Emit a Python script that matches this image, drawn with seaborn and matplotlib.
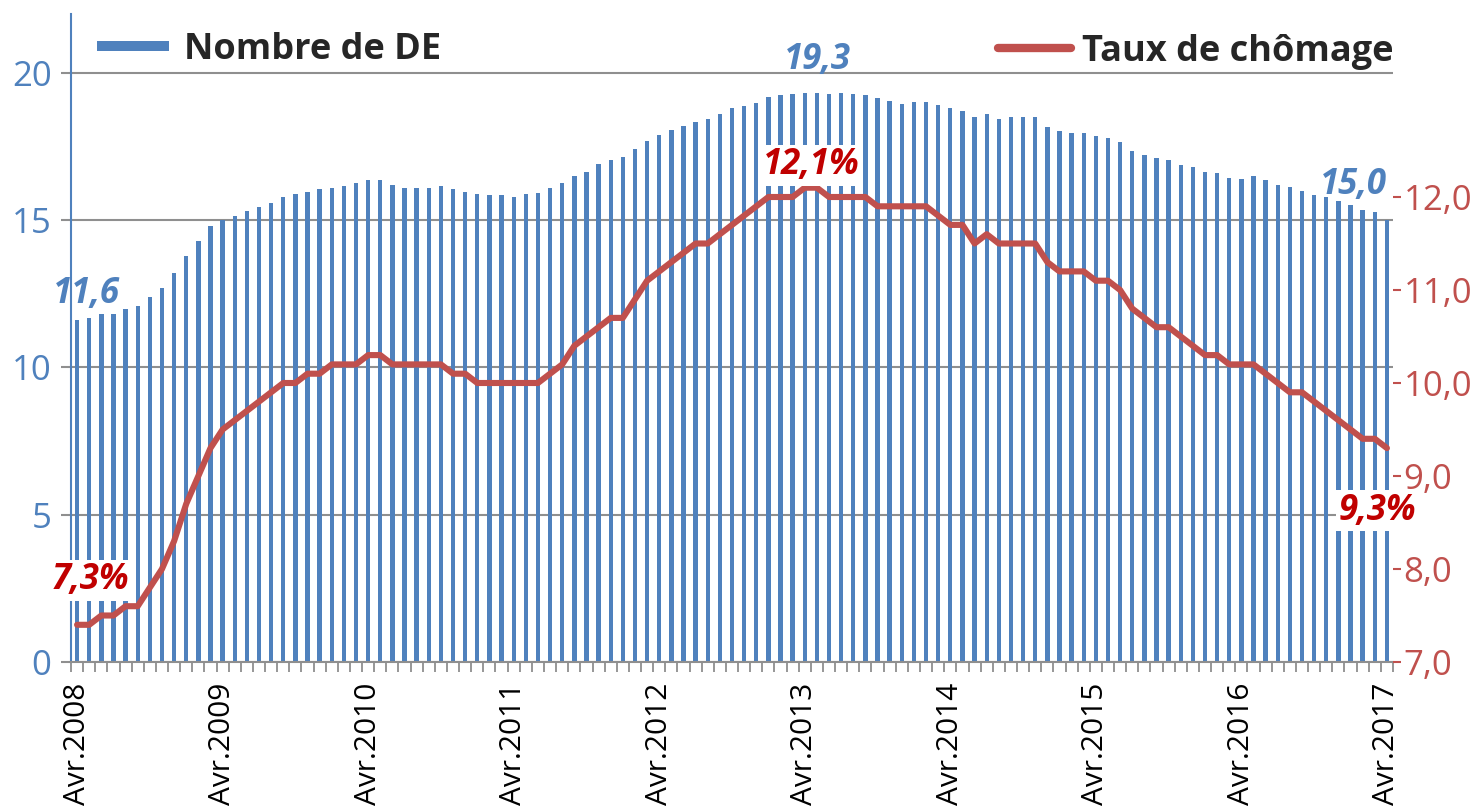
import numpy as np
import pandas as pd
import seaborn as sns
import matplotlib.pyplot as plt
from matplotlib.lines import Line2D
from matplotlib.ticker import FuncFormatter, FixedLocator

# ---------------- data ----------------
months = pd.period_range("2008-04", "2017-04", freq="M")

nombre_de = [
    11.6, 11.67, 11.8, 11.83, 12.0, 12.1, 12.4, 12.7, 13.2, 13.8,
    14.3, 14.8, 15.0, 15.15, 15.3, 15.45, 15.6, 15.8, 15.9, 15.95,
    16.05, 16.1, 16.15, 16.25, 16.35, 16.35, 16.2,
    16.1, 16.1, 16.1, 16.15, 16.05, 15.97, 15.9, 15.85, 15.87, 15.8,
    15.9, 15.92, 16.1, 16.25, 16.5, 16.65, 16.9, 17.05, 17.15, 17.4,
    17.7, 17.9, 18.05, 18.2, 18.35, 18.45, 18.6,
    18.8, 18.87, 18.97, 19.18, 19.25, 19.27, 19.32, 19.33, 19.27, 19.32,
    19.3, 19.24, 19.15, 19.05, 18.96, 19.02, 19.02, 18.9, 18.8, 18.72,
    18.5, 18.62, 18.43, 18.52, 18.52, 18.5, 18.17,
    18.03, 17.97, 17.97, 17.85, 17.78, 17.66, 17.34, 17.2, 17.1, 17.03,
    16.88, 16.8, 16.62, 16.6, 16.43, 16.4, 16.49, 16.37, 16.2, 16.11,
    16.0, 15.86, 15.8, 15.64, 15.52, 15.35, 15.28, 15.0,
]

taux_chomage = [
    7.4, 7.4, 7.5, 7.5, 7.6, 7.6, 7.8, 8.0, 8.3, 8.7,
    9.0, 9.3, 9.5, 9.6, 9.7, 9.8, 9.9, 10.0, 10.0, 10.1,
    10.1, 10.2, 10.2, 10.2, 10.3, 10.3, 10.2,
    10.2, 10.2, 10.2, 10.2, 10.1, 10.1, 10.0, 10.0, 10.0, 10.0,
    10.0, 10.0, 10.1, 10.2, 10.4, 10.5, 10.6, 10.7, 10.7, 10.9,
    11.1, 11.2, 11.3, 11.4, 11.5, 11.5, 11.6,
    11.7, 11.8, 11.9, 12.0, 12.0, 12.0, 12.1, 12.1, 12.0, 12.0,
    12.0, 12.0, 11.9, 11.9, 11.9, 11.9, 11.9, 11.8, 11.7, 11.7,
    11.5, 11.6, 11.5, 11.5, 11.5, 11.5, 11.3,
    11.2, 11.2, 11.2, 11.1, 11.1, 11.0, 10.8, 10.7, 10.6, 10.6,
    10.5, 10.4, 10.3, 10.3, 10.2, 10.2, 10.2, 10.1, 10.0, 9.9,
    9.9, 9.8, 9.7, 9.6, 9.5, 9.4, 9.4, 9.3,
]

series_names = ["Nombre de DE", "Taux de chômage"]
left_ticks = [0, 5, 10, 15, 20]
right_ticks = [7, 8, 9, 10, 11, 12]
de_labels = ["11,6", "19,3", "15,0"]          # start, peak, end
taux_labels = ["7,3%", "12,1%", "9,3%"]       # start, peak, end

BLUE = "#4F81BD"
RED = "#C0504D"
DARKRED = "#C00000"
GRID = "#8f8f8f"

n = len(months)
xlabels = [f"Avr.{p.year}" for p in months if p.month == 4]
xlabel_pos = [i for i, p in enumerate(months) if p.month == 4]

df = pd.DataFrame({"idx": np.arange(n), "de": nombre_de, "taux": taux_chomage})

# ---------------- figure ----------------
sns.set_theme(style="white")
plt.rcParams["font.family"] = ["Open Sans", "DejaVu Sans"]

W, H = 1478, 810
fig = plt.figure(figsize=(W / 100, H / 100), dpi=100)
ax = fig.add_axes([71 / W, 1 - 662 / H, (1393 - 71) / W, (662 - 14) / H])

sns.barplot(data=df, x="idx", y="de", color=BLUE, saturation=1, width=0.36,
            ax=ax, zorder=2, linewidth=0)
ax.set_xlim(-0.5, n - 0.5)
ax.set_ylim(0, 22)
ax.set_xlabel("")
ax.set_ylabel("")

# grid & spines
ax.yaxis.set_major_locator(FixedLocator(left_ticks))
ax.yaxis.grid(True, color=GRID, lw=1.5)
ax.xaxis.grid(False)
ax.set_axisbelow(True)
for s in ["top", "right"]:
    ax.spines[s].set_visible(False)
ax.spines["left"].set_color(BLUE)
ax.spines["left"].set_linewidth(1.5)
ax.spines["bottom"].set_color(GRID)
ax.spines["bottom"].set_linewidth(1.5)

ax.yaxis.set_major_formatter(FuncFormatter(lambda v, p: f"{v:.0f}"))
ax.tick_params(axis="y", which="major", left=True, length=7, width=1.5,
               color=GRID, labelcolor=BLUE, labelsize=25, pad=7)

ax.xaxis.set_major_locator(FixedLocator(xlabel_pos))
ax.set_xticklabels(xlabels, rotation=90, fontsize=21.5, color="black")
ax.xaxis.set_minor_locator(FixedLocator(np.arange(-0.5, n, 1.0)))
ax.tick_params(axis="x", which="major", bottom=True, length=0, pad=15)
ax.tick_params(axis="x", which="minor", bottom=True, length=7, width=1.3, color=GRID)

# line on secondary axis
ax2 = ax.twinx()
sns.lineplot(data=df, x="idx", y="taux", color=RED, lw=4.4, ax=ax2,
             solid_joinstyle="round", solid_capstyle="round")
ax2.set_xlim(-0.5, n - 0.5)
ax2.set_ylim(7, 7 + 648 / 93)
ax2.set_xlabel("")
ax2.set_ylabel("")
ax2.yaxis.set_major_locator(FixedLocator(right_ticks))
ax2.yaxis.set_major_formatter(FuncFormatter(lambda v, p: f"{v:.1f}".replace(".", ",")))
ax2.tick_params(axis="y", which="major", right=True, length=5.5, width=1.5,
                color=RED, labelcolor=RED, labelsize=25, pad=2)
for s in ax2.spines.values():
    s.set_visible(False)
ax2.grid(False)

# ---------------- annotations ----------------
peak_de = 61
peak_t = 60
bold_it = dict(fontsize=25, fontweight="bold", fontstyle="italic",
               ha="center", va="center", textcoords="offset points")

ax.annotate(de_labels[0], xy=(0, nombre_de[0]), xytext=(6.5, 19), color=BLUE, **bold_it)
ax.annotate(de_labels[1], xy=(peak_de, nombre_de[peak_de]), xytext=(0.7, 23.5), color=BLUE, **bold_it)
ax.annotate(de_labels[2], xy=(n - 1, nombre_de[-1]), xytext=(-24.5, 25.5), color=BLUE, **bold_it)

box = dict(boxstyle="square,pad=0.08", fc="white", ec="none")
ax2.annotate(taux_labels[0], xy=(0, taux_chomage[0]), xytext=(10, 32), color=DARKRED,
             bbox=box, **bold_it)
ax2.annotate(taux_labels[1], xy=(peak_t, taux_chomage[peak_t]), xytext=(5, 16), color=DARKRED,
             bbox=box, **bold_it)
ax2.annotate(taux_labels[2], xy=(n - 1, taux_chomage[-1]), xytext=(-7, -45), color=DARKRED,
             bbox=box, **bold_it)

# ---------------- legends ----------------
h1 = Line2D([], [], color=BLUE, lw=7.2, solid_capstyle="butt")
h2 = Line2D([], [], color=RED, lw=6, solid_capstyle="round")
leg_font = dict(size=26, weight="bold")
leg1 = ax2.legend([h1], [series_names[0]], loc="center left",
                  bbox_to_anchor=(97 / W, 1 - 50 / H), bbox_transform=fig.transFigure,
                  frameon=False, borderpad=0, borderaxespad=0, handlelength=2.0,
                  handletextpad=0.4, prop=leg_font)
ax2.add_artist(leg1)
leg2 = ax2.legend([h2], [series_names[1]], loc="center right",
                  bbox_to_anchor=(1393 / W, 1 - 52 / H), bbox_transform=fig.transFigure,
                  frameon=False, borderpad=0, borderaxespad=0, handlelength=2.0,
                  handletextpad=0.3, prop=leg_font)

fig.savefig("out.png", dpi=100, facecolor="white")
